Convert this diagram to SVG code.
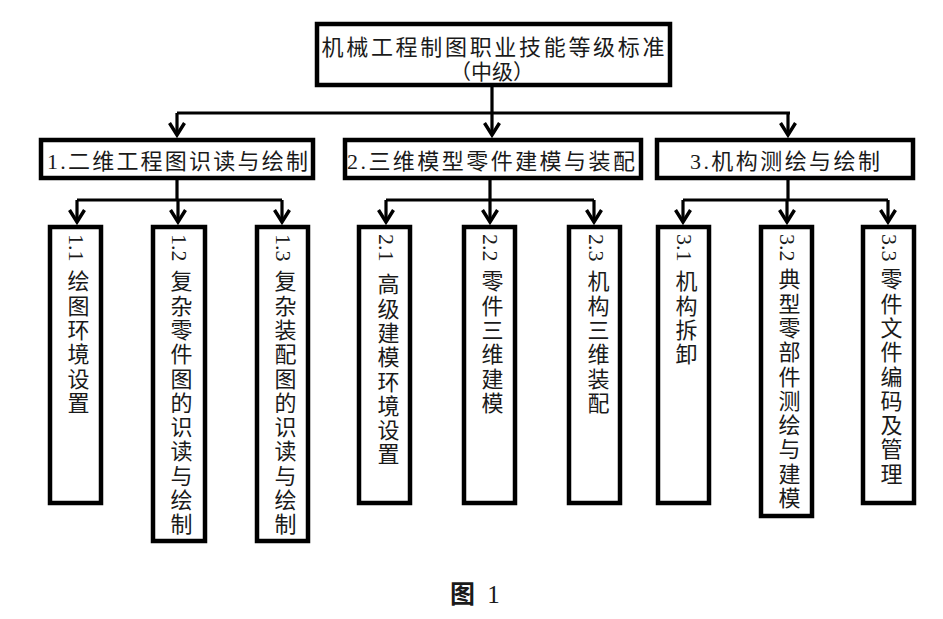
<svg xmlns="http://www.w3.org/2000/svg" width="943" height="619" viewBox="0 0 943 619">
<defs>
<style>
.box{fill:#fff;stroke:#000;stroke-width:4.5}
.t{font-family:"Liberation Serif","Noto Sans CJK SC",serif;fill:#1a1a1a}
.h{font-size:22px}
.v{font-size:22px;writing-mode:vertical-rl;letter-spacing:2.3px}
.n{font-size:22px;writing-mode:vertical-rl}
.c{fill:none;stroke:#000;stroke-width:3.2}
</style>
<marker id="ah" markerUnits="userSpaceOnUse" markerWidth="20" markerHeight="20" viewBox="-16 -10 20 20" refX="0" refY="0" orient="auto" overflow="visible">
<path d="M-12,-7.5 L0,0 L-12,7.5" fill="none" stroke="#000" stroke-width="3.4" stroke-linejoin="miter"/>
</marker>
</defs>
<rect width="943" height="619" fill="#fff"/>
<g id="connectors">
<path class="c" d="M492,87 V113 M177,113 H790"/>
<path class="c" d="M177,113 V135" marker-end="url(#ah)"/>
<path class="c" d="M492,113 V135" marker-end="url(#ah)"/>
<path class="c" d="M788,113 V135" marker-end="url(#ah)"/>
<path class="c" d="M177,180 V200 M77,200 H282 M490,180 V200 M386,200 H594 M788,180 V200 M683,200 H888"/>
<path class="c" d="M77,200 V222" marker-end="url(#ah)"/>
<path class="c" d="M178,200 V222" marker-end="url(#ah)"/>
<path class="c" d="M282,200 V222" marker-end="url(#ah)"/>
<path class="c" d="M386,200 V222" marker-end="url(#ah)"/>
<path class="c" d="M490,200 V222" marker-end="url(#ah)"/>
<path class="c" d="M594,200 V222" marker-end="url(#ah)"/>
<path class="c" d="M683,200 V222" marker-end="url(#ah)"/>
<path class="c" d="M787,200 V222" marker-end="url(#ah)"/>
<path class="c" d="M888,200 V222" marker-end="url(#ah)"/>
</g>
<g id="root">
<rect class="box" x="317" y="24" width="353" height="61"/>
<text class="t" x="493" y="55" font-size="22" text-anchor="middle" textLength="343" lengthAdjust="spacing">机械工程制图职业技能等级标准</text>
<text class="t" x="492" y="79" font-size="21" text-anchor="middle">（中级）</text>
</g>
<g id="n1">
<rect class="box" x="41" y="140" width="272" height="38"/>
<text class="t h" x="177.5" y="169" text-anchor="middle" textLength="261" lengthAdjust="spacing">1.二维工程图识读与绘制</text>
</g>
<g id="n2">
<rect class="box" x="345" y="140" width="296" height="38"/>
<text class="t h" x="491" y="169" text-anchor="middle" textLength="288" lengthAdjust="spacing">2.三维模型零件建模与装配</text>
</g>
<g id="n3">
<rect class="box" x="657" y="140" width="256" height="38"/>
<text class="t h" x="785" y="169" text-anchor="middle" textLength="190" lengthAdjust="spacing">3.机构测绘与绘制</text>
</g>
<g id="n11"><rect class="box" x="50" y="227" width="51" height="276"/><text class="t n" x="76" y="234">1.1</text><text class="t v" x="76" y="270">绘图环境设置</text></g>
<g id="n12"><rect class="box" x="153" y="227" width="52" height="314"/><text class="t n" x="179" y="234">1.2</text><text class="t v" x="179" y="270">复杂零件图的识读与绘制</text></g>
<g id="n13"><rect class="box" x="257" y="227" width="51" height="314"/><text class="t n" x="283" y="234">1.3</text><text class="t v" x="283" y="270">复杂装配图的识读与绘制</text></g>
<g id="n21"><rect class="box" x="359" y="227" width="51" height="276"/><text class="t n" x="386" y="234">2.1</text><text class="t v" x="386" y="273">高级建模环境设置</text></g>
<g id="n22"><rect class="box" x="464" y="227" width="51" height="276"/><text class="t n" x="490" y="234">2.2</text><text class="t v" x="490" y="270">零件三维建模</text></g>
<g id="n23"><rect class="box" x="569" y="227" width="51" height="276"/><text class="t n" x="596" y="234">2.3</text><text class="t v" x="596" y="270">机构三维装配</text></g>
<g id="n31"><rect class="box" x="658" y="227" width="51" height="276"/><text class="t n" x="684" y="234">3.1</text><text class="t v" x="684" y="270">机构拆卸</text></g>
<g id="n32"><rect class="box" x="761" y="227" width="51" height="289"/><text class="t n" x="787" y="234">3.2</text><text class="t v" x="787" y="268">典型零部件测绘与建模</text></g>
<g id="n33"><rect class="box" x="863" y="227" width="51" height="276"/><text class="t n" x="889" y="234">3.3</text><text class="t v" x="889" y="268">零件文件编码及管理</text></g>
<text class="t" x="450" y="603" font-size="25" xml:space="preserve"><tspan font-weight="bold">图</tspan> <tspan dx="6">1</tspan></text>
</svg>
